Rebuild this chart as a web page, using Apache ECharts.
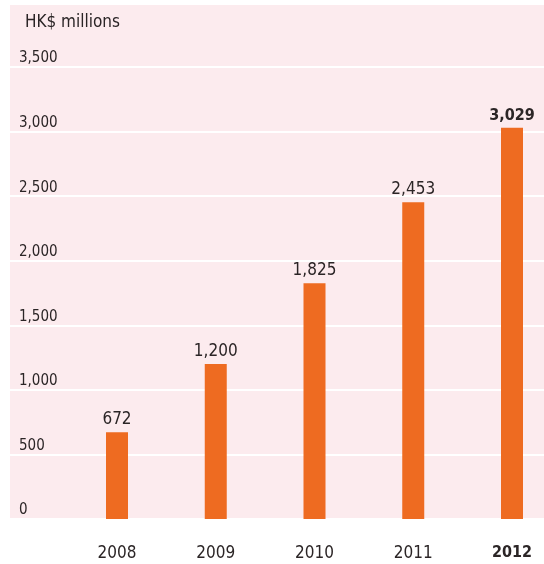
<!DOCTYPE html>
<html><head><meta charset="utf-8">
<script src="https://cdn.jsdelivr.net/npm/echarts@6/dist/echarts.min.js"></script>
<style>html,body{margin:0;padding:0;background:#fff}#c{width:544px;height:564px}</style>
</head><body><div id="c"></div>
<script>
var years = ['2008','2009','2010','2011','2012'];
var values = [672, 1200, 1825, 2453, 3029];
var yTicks = {min: 0, max: 3500, interval: 500};
var unitLabel = 'HK$ millions';

var FONT = '"DejaVu Sans Condensed", "Liberation Sans Narrow", sans-serif';
var TXT = '#2b2526';
var chart = echarts.init(document.getElementById('c'));
var last = years.length - 1;
chart.setOption({
  animation: false,
  backgroundColor: '#ffffff',
  textStyle: {fontFamily: FONT},
  title: {text: unitLabel, left: 20, top: 9, textStyle: {fontFamily: FONT, fontSize: 17, fontWeight: 'normal', color: TXT}},
  grid: [
    {left: 10, right: 0, top: 5, bottom: 45, show: true, backgroundColor: '#fcebee', borderWidth: 0},
    {left: 10, right: 0, top: 67, bottom: 45},
    {left: 117, right: 32, top: 67, bottom: 45}
  ],
  xAxis: [
    {gridIndex: 0, type: 'value', show: false},
    {gridIndex: 1, type: 'value', show: false},
    {gridIndex: 2, type: 'category', data: years, boundaryGap: false,
     axisLine: {show: false}, axisTick: {show: false},
     axisLabel: {interval: 0, margin: 26, fontSize: 17, color: TXT, fontFamily: FONT,
       formatter: function (v, i) { return i === last ? '{b|' + v + '}' : v; },
       rich: {b: {fontWeight: 'bold', fontSize: 16, color: TXT, fontFamily: FONT}}}}
  ],
  yAxis: [
    {gridIndex: 0, type: 'value', show: false},
    {gridIndex: 1, type: 'value', min: yTicks.min, max: yTicks.max, interval: yTicks.interval,
     axisLine: {show: false}, axisTick: {show: false},
     splitLine: {show: true, lineStyle: {color: '#ffffff', width: 2}},
     axisLabel: {inside: true, margin: 9, align: 'left', verticalAlign: 'bottom', padding: [0, 0, 1, 0], fontSize: 15, color: TXT, fontFamily: FONT,
       formatter: function (v) { return v.toLocaleString('en-US'); }}},
    {gridIndex: 2, type: 'value', min: yTicks.min, max: yTicks.max, interval: yTicks.interval, show: false}
  ],
  series: [{
    type: 'bar', xAxisIndex: 2, yAxisIndex: 2, barWidth: 22,
    itemStyle: {color: '#ee6b21'},
    label: {show: true, position: 'top', distance: 4, fontSize: 17, color: TXT, fontFamily: FONT,
      formatter: function (p) { return p.value.toLocaleString('en-US'); }},
    data: values.map(function (v, i) {
      return i === last ? {value: v, label: {fontWeight: 'bold', fontSize: 16}} : v;
    })
  }]
});
</script></body></html>
